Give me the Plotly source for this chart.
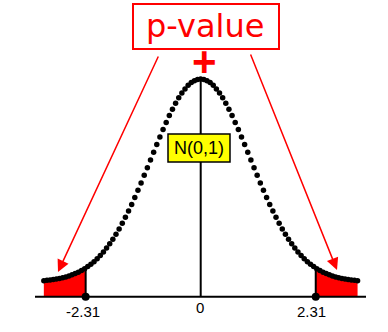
import plotly.graph_objects as go

# Dotted N(0,1) density curve
xs = [-3.15, -3.087, -3.024, -2.961, -2.898, -2.835, -2.772, -2.709, -2.646, -2.583,
      -2.52, -2.457, -2.394, -2.331, -2.268, -2.205, -2.142, -2.079, -2.016, -1.953,
      -1.89, -1.827, -1.764, -1.701, -1.638, -1.575, -1.512, -1.449, -1.386, -1.323,
      -1.26, -1.197, -1.134, -1.071, -1.008, -0.945, -0.882, -0.819, -0.756, -0.693,
      -0.63, -0.567, -0.504, -0.441, -0.378, -0.315, -0.252, -0.189, -0.126, -0.063,
      0.0,
      0.063, 0.126, 0.189, 0.252, 0.315, 0.378, 0.441, 0.504, 0.567, 0.63,
      0.693, 0.756, 0.819, 0.882, 0.945, 1.008, 1.071, 1.134, 1.197, 1.26,
      1.323, 1.386, 1.449, 1.512, 1.575, 1.638, 1.701, 1.764, 1.827, 1.89,
      1.953, 2.016, 2.079, 2.142, 2.205, 2.268, 2.331, 2.394, 2.457, 2.52,
      2.583, 2.646, 2.709, 2.772, 2.835, 2.898, 2.961, 3.024, 3.087, 3.15]
ys = [0.0028, 0.0034, 0.0041, 0.005, 0.006, 0.0072, 0.0086, 0.0102, 0.012, 0.0142,
      0.0167, 0.0195, 0.0227, 0.0264, 0.0305, 0.0351, 0.0402, 0.046, 0.0523, 0.0592,
      0.0669, 0.0752, 0.0842, 0.0939, 0.1043, 0.1154, 0.1272, 0.1396, 0.1527, 0.1663,
      0.1804, 0.1949, 0.2097, 0.2248, 0.24, 0.2553, 0.2704, 0.2853, 0.2998, 0.3138,
      0.3271, 0.3397, 0.3514, 0.362, 0.3714, 0.3796, 0.3865, 0.3919, 0.3958, 0.3982,
      0.3989,
      0.3982, 0.3958, 0.3919, 0.3865, 0.3796, 0.3714, 0.362, 0.3514, 0.3397, 0.3271,
      0.3138, 0.2998, 0.2853, 0.2704, 0.2553, 0.24, 0.2248, 0.2097, 0.1949, 0.1804,
      0.1663, 0.1527, 0.1396, 0.1272, 0.1154, 0.1043, 0.0939, 0.0842, 0.0752, 0.0669,
      0.0592, 0.0523, 0.046, 0.0402, 0.0351, 0.0305, 0.0264, 0.0227, 0.0195, 0.0167,
      0.0142, 0.012, 0.0102, 0.0086, 0.0072, 0.006, 0.005, 0.0041, 0.0034, 0.0028]
crit_values = [-2.31, 2.31]
ycrit = 0.0277
tick_labels = ["-2.31", "0", "2.31"]
title_text = "p-value"
dist_text = "N(0,1)"

W, H = 388, 332
X0PX, XSC = 200.7, 49.8
Y0PX, YSC = 282.1, 509.0
def dx(px): return (px - X0PX) / XSC
def dy(py): return (Y0PX - py) / YSC
def pxp(px): return px / W
def pyp(py): return 1 - py / H

base = dy(296.7)
crit = crit_values[1]

fig = go.Figure()
lx = [x for x in xs if x <= -crit] + [-crit]
ly = [y for x, y in zip(xs, ys) if x <= -crit] + [ycrit]
fig.add_trace(go.Scatter(x=lx + [-crit, lx[0]], y=ly + [base, base], fill="toself",
                         fillcolor="#ff0000", line=dict(width=0), mode="lines", hoverinfo="skip"))
rx = [crit] + [x for x in xs if x >= crit]
ry = [ycrit] + [y for x, y in zip(xs, ys) if x >= crit]
fig.add_trace(go.Scatter(x=rx + [rx[-1], crit], y=ry + [base, base], fill="toself",
                         fillcolor="#ff0000", line=dict(width=0), mode="lines", hoverinfo="skip"))
fig.add_trace(go.Scatter(x=xs, y=ys, mode="markers", marker=dict(size=5.5, color="black"), hoverinfo="skip"))
fig.add_trace(go.Scatter(x=crit_values, y=[base, base], mode="markers",
                         marker=dict(size=8, color="black"), hoverinfo="skip"))

shapes = [
    dict(type="line", x0=dx(35), x1=dx(366), y0=base, y1=base, line=dict(color="black", width=2)),
    dict(type="line", x0=0, x1=0, y0=base, y1=max(ys), line=dict(color="black", width=2)),
    dict(type="line", x0=-crit, x1=-crit, y0=base, y1=ycrit, line=dict(color="black", width=2)),
    dict(type="line", x0=crit, x1=crit, y0=base, y1=ycrit, line=dict(color="black", width=2)),
    dict(type="rect", xref="paper", yref="paper", x0=pxp(133), x1=pxp(279), y0=pyp(49), y1=pyp(4),
         line=dict(color="#ff0000", width=2)),
    dict(type="rect", xref="paper", yref="paper", x0=pxp(168), x1=pxp(230), y0=pyp(162), y1=pyp(134),
         line=dict(color="black", width=1.5), fillcolor="#ffff00"),
]

def label(text, px, py, size, color, family="Liberation Sans"):
    return dict(text=text, xref="paper", yref="paper", x=pxp(px), y=pyp(py), showarrow=False,
                xanchor="center", yanchor="middle",
                font=dict(family=family, size=size, color=color))

ann = [
    label(title_text, 205, 26, 32, "#ff0000", "DejaVu Sans"),
    label("<b>+</b>", 204, 61, 42, "#ff0000"),
    label(dist_text, 199, 148, 18, "black"),
    label(tick_labels[0], 82.5, 311, 15, "black"),
    label(tick_labels[1], 200, 307.5, 15, "black"),
    label(tick_labels[2], 311.7, 311, 15, "black"),
    dict(text="", x=dx(58), y=dy(272), ax=dx(159), ay=dy(55), axref="x", ayref="y",
         showarrow=True, arrowhead=2, arrowsize=1.6, arrowwidth=1.5, arrowcolor="#ff0000"),
    dict(text="", x=dx(337), y=dy(270), ax=dx(250), ay=dy(53), axref="x", ayref="y",
         showarrow=True, arrowhead=2, arrowsize=1.6, arrowwidth=1.5, arrowcolor="#ff0000"),
]

fig.update_layout(width=W, height=H, margin=dict(l=0, r=0, t=0, b=0), showlegend=False,
                  paper_bgcolor="white", plot_bgcolor="white", shapes=shapes, annotations=ann,
                  xaxis=dict(range=[dx(0), dx(W)], visible=False, fixedrange=True),
                  yaxis=dict(range=[dy(H), dy(0)], visible=False, fixedrange=True))
fig.write_html("out.html")
